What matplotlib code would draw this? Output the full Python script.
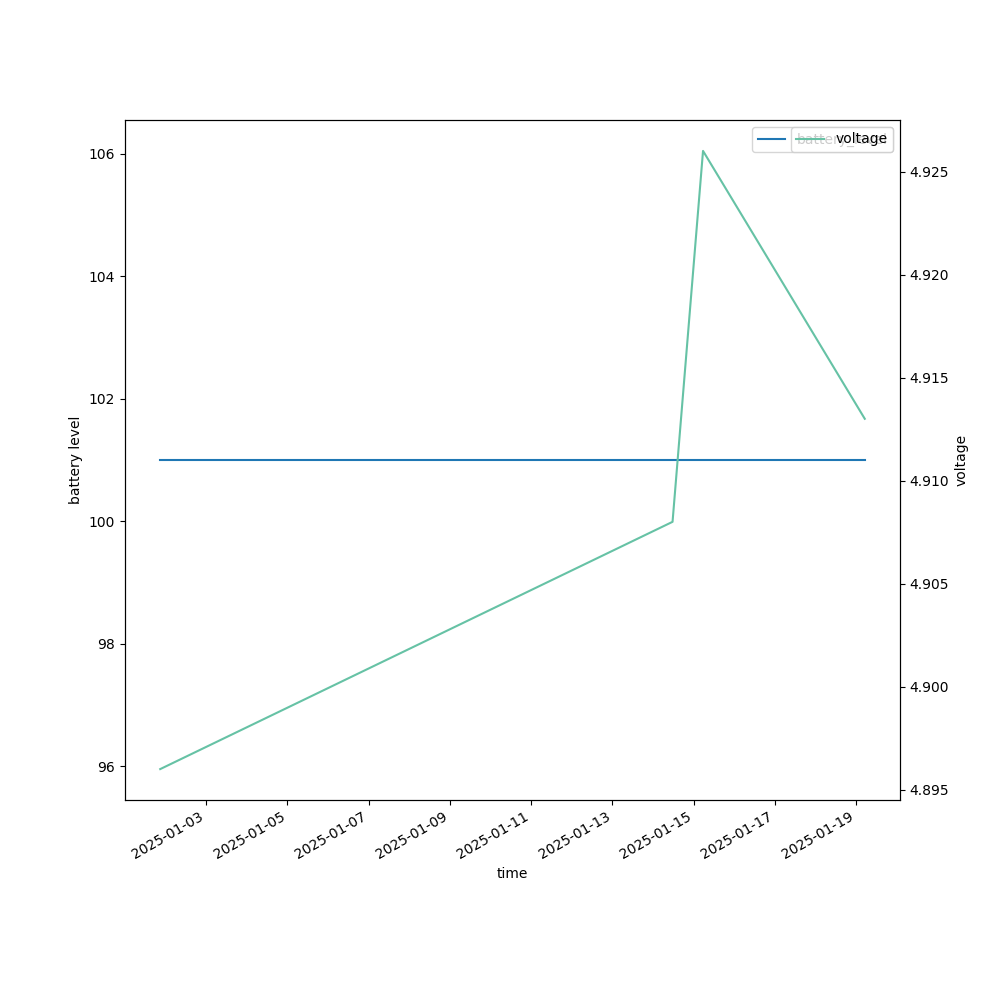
import pandas as pd
import matplotlib
matplotlib.use("Agg")
import matplotlib.pyplot as plt

# readings
times = pd.to_datetime(["2025-01-01 21:00", "2025-01-14 11:30",
                        "2025-01-15 05:30", "2025-01-19 05:00"])
battery = [101, 101, 101, 101]
voltage = [4.896, 4.908, 4.926, 4.913]

fig, ax1 = plt.subplots(figsize=(10, 10), dpi=100)
ax1.plot(times, battery, color="tab:blue", label="battery_level")
ax1.set_xlabel("time")
ax1.set_ylabel("battery level")
ax1.legend(loc="upper right")

ax2 = ax1.twinx()
ax2.plot(times, voltage, color="#66c2a5", label="voltage")
ax2.set_ylabel("voltage")
ax2.legend(loc="upper right")

fig.autofmt_xdate()
plt.savefig("out.png")
